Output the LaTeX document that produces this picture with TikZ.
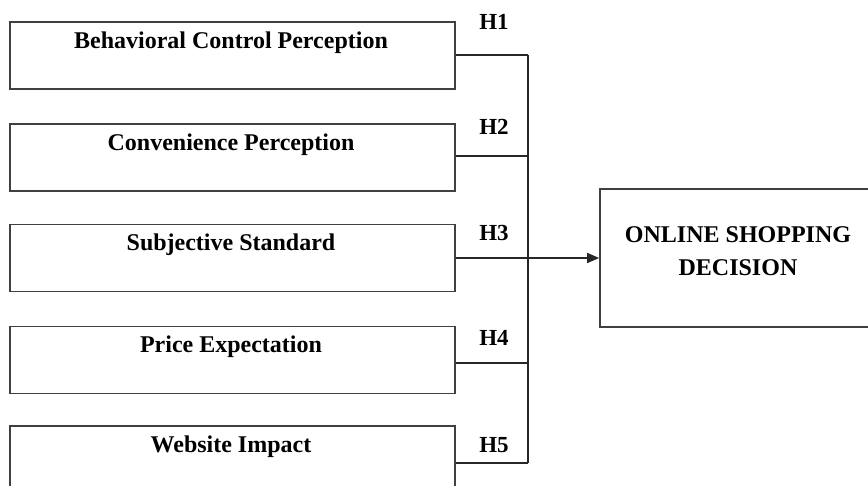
\documentclass[tikz,border=0pt]{standalone}
\usepackage{fontspec}
\setmainfont{Liberation Serif}
\usetikzlibrary{arrows.meta}
\tikzset{
  srcbox/.style={draw=black!75, line width=1.7pt, rectangle, minimum width=445pt, minimum height=67pt, inner sep=0pt},
  tgtbox/.style={draw=black!75, line width=1.7pt, rectangle, minimum width=272pt, minimum height=138pt, inner sep=0pt},
  boxtext/.style={font=\fontsize{24}{33}\selectfont\bfseries, inner sep=0pt, align=center},
  hlabel/.style={font=\fontsize{23}{28}\selectfont\bfseries, inner sep=0pt},
  conn/.style={draw=black!85, line width=1.5pt},
}
\begin{document}
\begin{tikzpicture}[x=1pt,y=-1pt]
\clip (0,0) rectangle (868,486);
\useasboundingbox (0,0) rectangle (868,486);
% source boxes
\node[srcbox] (b1) at (232.5,55.5) {};
\node[srcbox] (b2) at (232.5,157.5) {};
\node[srcbox] (b3) at (232.5,258) {};
\node[srcbox] (b4) at (232.5,360) {};
\node[srcbox] (b5) at (232.5,459.5) {};
\node[boxtext] (t1) at (231,43) {Behavioral Control Perception};
\node[boxtext] (t2) at (231,145) {Convenience Perception};
\node[boxtext] (t3) at (231,245) {Subjective Standard};
\node[boxtext] (t4) at (231,347) {Price Expectation};
\node[boxtext] (t5) at (231,447) {Website Impact};
% target box
\node[tgtbox] (tg) at (736,258) {};
\node[boxtext] (tt) at (738,251) {ONLINE SHOPPING\\DECISION};
% junction coordinates
\coordinate (j1) at (528,55);
\coordinate (j2) at (528,156);
\coordinate (j3) at (528,258);
\coordinate (j4) at (528,363);
\coordinate (j5) at (528,463);
\draw[conn] (b1.east |- j1) -- (j1);
\draw[conn] (b2.east |- j2) -- (j2);
\draw[conn] (b4.east |- j4) -- (j4);
\draw[conn] (b5.east |- j5) -- (j5);
\draw[conn] (j1) -- (j5);
\draw[conn, -{Triangle[length=12pt,width=10pt]}] (b3.east) -- (tg.west);
% hypothesis labels
\node[hlabel] (h1) at (494,22) {H1};
\node[hlabel] (h2) at (494,127) {H2};
\node[hlabel] (h3) at (494,233) {H3};
\node[hlabel] (h4) at (494,338) {H4};
\node[hlabel] (h5) at (494,445) {H5};
\end{tikzpicture}
\end{document}
